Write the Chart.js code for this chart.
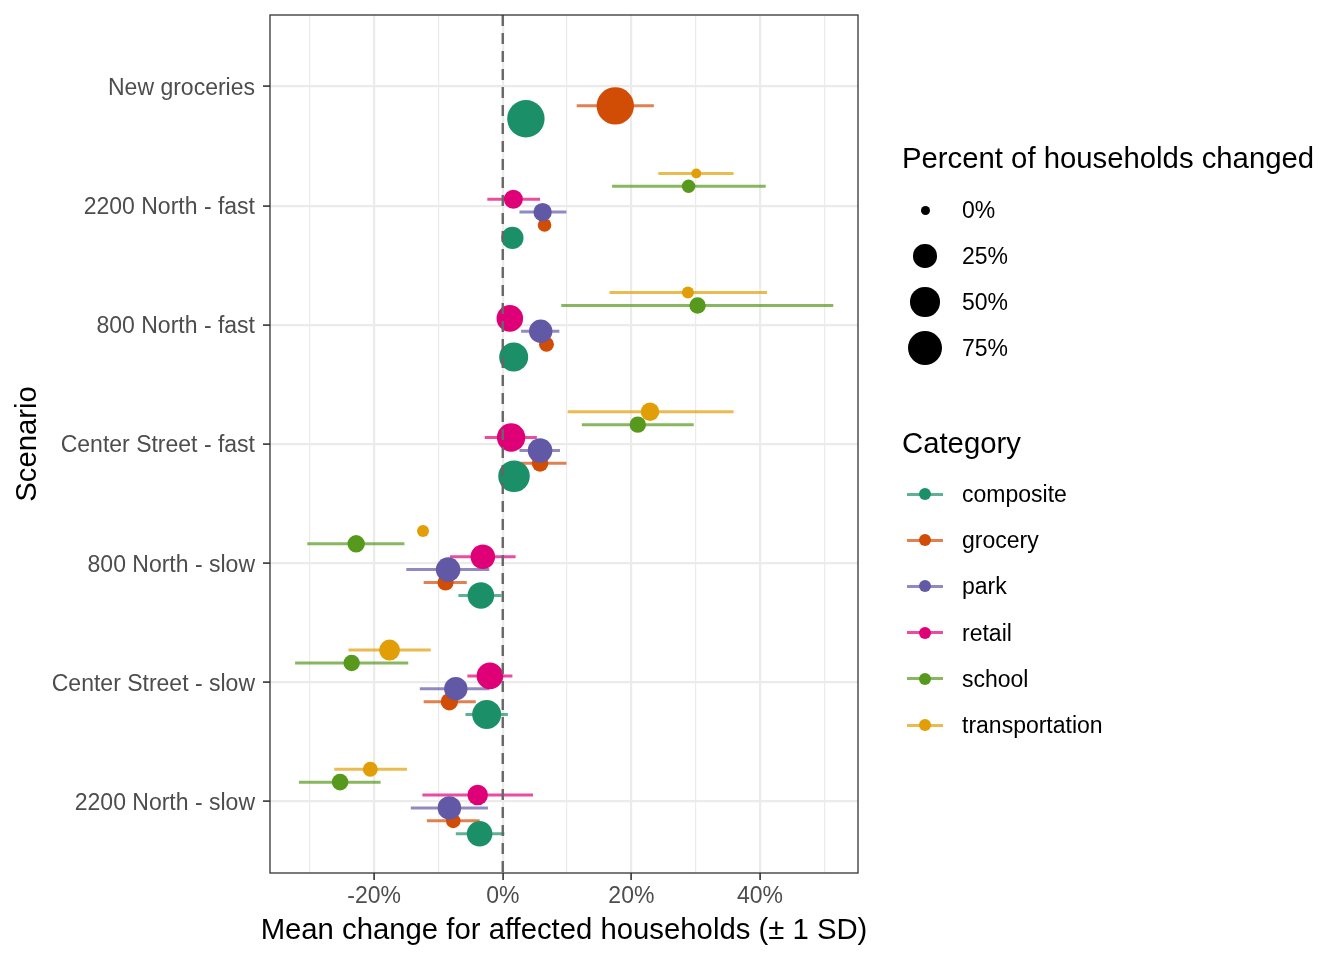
<!DOCTYPE html>
<html>
<head>
<meta charset="utf-8">
<title>Mean change for affected households</title>
<script src="https://cdn.jsdelivr.net/npm/chart.js@4.4.1/dist/chart.umd.min.js"></script>
<style>
  html, body { margin: 0; padding: 0; background: #fff; }
  #wrap { position: relative; width: 1344px; height: 960px; font-family: "Liberation Sans", Arial, sans-serif; }
  #chart { position: absolute; left: 0; top: 0; }
  .x-title { position: absolute; left: 0; width: 1128px; top: 912px; text-align: center; font-size: 29.3px; line-height: 34px; color: #000; white-space: nowrap; }
  .lg-title { position: absolute; left: 902px; font-size: 29.3px; line-height: 34px; color: #000; white-space: nowrap; }
  .lg-label { position: absolute; left: 962px; font-size: 23px; line-height: 28px; color: #000; white-space: nowrap; }
  .lg-dot { position: absolute; border-radius: 50%; }
  .lg-line { position: absolute; height: 3px; }
</style>
</head>
<body>
<div id="wrap">
  <canvas id="chart" width="1344" height="960"></canvas>
  <div class="x-title">Mean change for affected households (± 1 SD)</div>
  <div id="legend"></div>
</div>
<script>
/**
 * Dodged point ranges: mean change per scenario and category
 */
var scenarios = ['New groceries', '2200 North - fast', '800 North - fast', 'Center Street - fast',
                 '800 North - slow', 'Center Street - slow', '2200 North - slow'];
var categories = ['composite', 'grocery', 'park', 'retail', 'school', 'transportation'];

// one row per scenario: [mean %, mean - 1 SD, mean + 1 SD, % of households changed]
var composite = [
  [3.6, 2.0, 5.2, 97], [1.5, 0.5, 2.5, 21], [1.7, 0.3, 3.1, 48], [1.75, 0.3, 3.2, 61],
  [-3.4, -6.9, -0.2, 37], [-2.5, -5.8, 0.8, 48], [-3.6, -7.3, 0.25, 33]
];
var grocery = [
  [17.5, 11.5, 23.5, 97], [6.5, 5.7, 7.3, 2.5], [6.8, 5.9, 7.7, 4.3], [5.8, 1.8, 9.9, 7],
  [-8.9, -12.3, -5.6, 6], [-8.3, -12.3, -4.2, 8.5], [-7.7, -11.8, -3.6, 3.8]
];
var park = [
  null, [6.2, 2.6, 9.9, 10.6], [5.9, 2.85, 8.8, 25], [5.8, 2.6, 8.9, 29],
  [-8.5, -15.0, -2.1, 29], [-7.3, -12.9, -2.1, 25], [-8.3, -14.3, -2.3, 25.6]
];
var retail = [
  null, [1.65, -2.4, 5.8, 12], [1.1, -0.8, 3.0, 37], [1.3, -2.8, 5.3, 45],
  [-3.1, -8.2, 2.0, 29], [-2.0, -5.5, 1.5, 37], [-3.9, -12.5, 4.7, 16]
];
var school = [
  null, [28.9, 17.0, 40.9, 2.3], [30.3, 9.1, 51.4, 6.6], [21.0, 12.3, 29.7, 6.6],
  [-22.8, -30.4, -15.3, 8.5], [-23.5, -32.3, -14.7, 6.6], [-25.3, -31.7, -19.0, 6.9]
];
var transportation = [
  null, [30.1, 24.2, 35.9, 0.1], [28.8, 16.6, 41.1, 1.1], [22.9, 10.1, 35.9, 11],
  [-12.4, null, null, 1.1], [-17.6, -24.0, -11.2, 17], [-20.6, -26.2, -14.9, 4.3]
];

var sizeBreaks = [0, 25, 50, 75];

var seriesRows = [composite, grocery, park, retail, school, transportation];
var pointColors = ['#1B9068', '#D14C05', '#6259A6', '#DF0078', '#57991C', '#E19E06'];

var X_MIN = -36.2, X_MAX = 55.25;
var Y_MIN = 0.4, Y_MAX = 7.6;
var DODGE = 0.65;

function sizeFor(pct) {
  return 4.5 + 1.443 * Math.sqrt(pct);
}

// first category sits lowest in each scenario band (axis is reversed)
function dodge(s) {
  return ((categories.length - 1) / 2 - s) * DODGE / categories.length;
}

function fade(hex, a) {
  var n = parseInt(hex.slice(1), 16);
  return 'rgba(' + (n >> 16) + ',' + ((n >> 8) & 255) + ',' + (n & 255) + ',' + a + ')';
}

Chart.defaults.font.family = '"Liberation Sans", Arial, sans-serif';

var datasets = [];

// dashed reference line at 0, on top of the points
datasets.push({
  type: 'line',
  label: 'zero',
  data: [{ x: 0, y: Y_MIN }, { x: 0, y: Y_MAX }],
  borderColor: '#666666',
  borderWidth: 2.4,
  borderDash: [11, 7],
  pointRadius: 0,
  order: 0
});

seriesRows.forEach(function(rows, s) {
  var pts = [], bars = [];
  rows.forEach(function(r, i) {
    if (!r) return;
    var y = i + 1 + dodge(s);
    pts.push({ x: r[0], y: y, r: sizeFor(r[3]) });
    if (r[1] !== null) {
      bars.push({ x: r[1], y: y }, { x: r[2], y: y }, { x: null, y: null });
    }
  });

  datasets.push({
    type: 'bubble',
    label: categories[s],
    data: pts,
    backgroundColor: pointColors[s],
    borderWidth: 0,
    hoverBorderWidth: 0,
    order: 10 - s
  });

  datasets.push({
    type: 'line',
    label: categories[s] + ' sd',
    data: bars,
    borderColor: fade(pointColors[s], 0.7),
    borderWidth: 3,
    borderCapStyle: 'butt',
    pointRadius: 0,
    spanGaps: false,
    order: 20
  });
});

var panelBorder = {
  id: 'panelBorder',
  afterDraw: function(chart) {
    var a = chart.chartArea, c = chart.ctx;
    c.save();
    c.strokeStyle = '#333333';
    c.lineWidth = 1.3;
    c.strokeRect(a.left, a.top, a.right - a.left, a.bottom - a.top);
    c.restore();
  }
};

function isMajor(c) {
  return c.tick && Math.abs(c.tick.value % 20) < 1e-9;
}

function noEdgePadding(scale) {
  scale.paddingTop = 0;
  scale.paddingBottom = 0;
  scale.paddingLeft = 0;
  scale.paddingRight = 0;
}

new Chart(document.getElementById('chart').getContext('2d'), {
  type: 'bubble',
  data: { datasets: datasets },
  plugins: [panelBorder],
  options: {
    responsive: false,
    animation: false,
    events: [],
    layout: { autoPadding: false, padding: { left: 0, right: 486, top: 15, bottom: 0 } },
    plugins: {
      legend: { display: false },
      tooltip: { enabled: false }
    },
    scales: {
      x: {
        type: 'linear',
        min: X_MIN,
        max: X_MAX,
        afterFit: function(scale) { scale.height = 87; noEdgePadding(scale); },
        border: { display: false },
        grid: {
          color: '#EBEBEB',
          lineWidth: function(c) { return isMajor(c) ? 2.2 : 1.2; },
          tickColor: function(c) { return isMajor(c) ? '#333333' : 'rgba(0,0,0,0)'; },
          tickLength: 7,
          tickWidth: 1.6
        },
        ticks: {
          stepSize: 10,
          includeBounds: false,
          autoSkip: false,
          maxRotation: 0,
          padding: 3,
          color: '#4D4D4D',
          font: { size: 23 },
          callback: function(v) { return Math.abs(v % 20) < 1e-9 ? v + '%' : ''; }
        }
      },
      y: {
        type: 'linear',
        reverse: true,
        min: Y_MIN,
        max: Y_MAX,
        afterFit: function(scale) { scale.width = 270; noEdgePadding(scale); },
        border: { display: false },
        grid: {
          color: '#EBEBEB',
          lineWidth: 2.2,
          tickColor: '#333333',
          tickLength: 7,
          tickWidth: 1.6
        },
        ticks: {
          stepSize: 1,
          includeBounds: false,
          autoSkip: false,
          padding: 8,
          labelOffset: 2,
          color: '#4D4D4D',
          font: { size: 23 },
          callback: function(v) { return scenarios[Math.round(v) - 1] || ''; }
        },
        title: {
          display: true,
          text: 'Scenario',
          color: '#000000',
          font: { size: 29.3 },
          padding: { top: 10, bottom: 0 }
        }
      }
    }
  }
});

// legends (size and colour), as html next to the panel
var legend = document.getElementById('legend');

function addEl(cls, css, text) {
  var d = document.createElement('div');
  d.className = cls;
  for (var k in css) d.style[k] = css[k];
  if (text) d.textContent = text;
  legend.appendChild(d);
  return d;
}

addEl('lg-title', { top: '141px' }, 'Percent of households changed');
sizeBreaks.forEach(function(b, i) {
  var cy = 210 + i * 46;
  var r = sizeFor(b);
  addEl('lg-dot', { left: (925 - r) + 'px', top: (cy - r) + 'px', width: 2 * r + 'px', height: 2 * r + 'px', background: '#000' });
  addEl('lg-label', { top: (cy - 14) + 'px' }, b + '%');
});

addEl('lg-title', { top: '426px' }, 'Category');
categories.forEach(function(name, i) {
  var cy = 494 + i * 46.2;
  addEl('lg-line', { left: '907px', top: (cy - 1.5) + 'px', width: '36px', background: fade(pointColors[i], 0.7) });
  addEl('lg-dot', { left: '919px', top: (cy - 6) + 'px', width: '12px', height: '12px', background: pointColors[i] });
  addEl('lg-label', { top: (cy - 14) + 'px' }, name);
});
</script>
</body>
</html>
